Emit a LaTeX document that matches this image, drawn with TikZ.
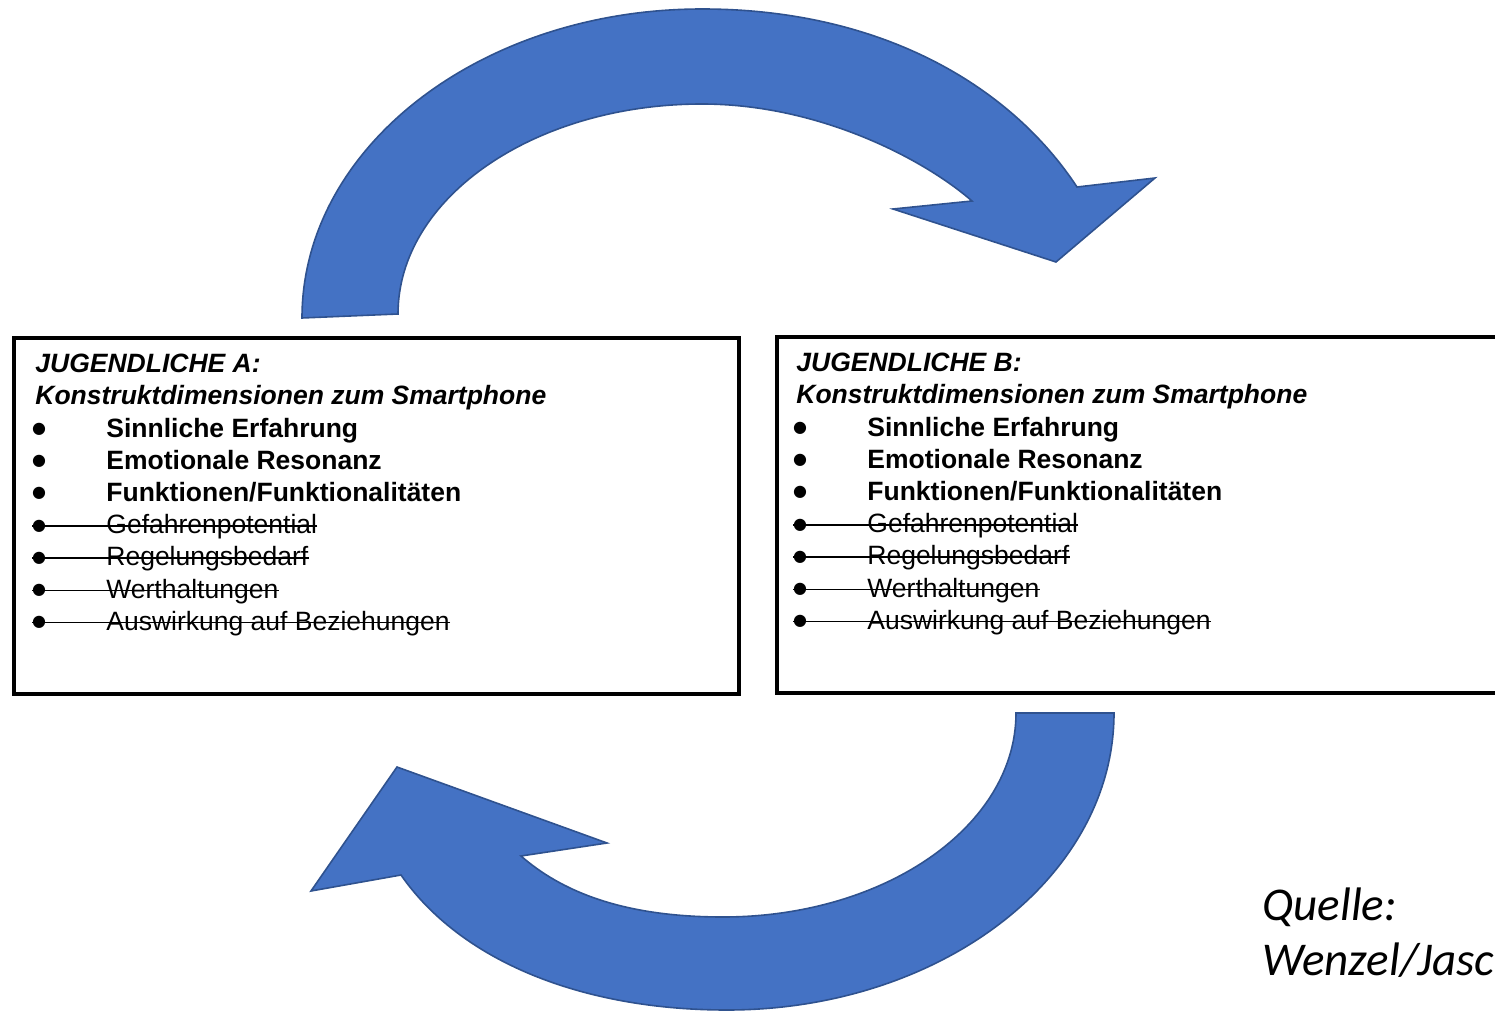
\documentclass[tikz,border=0pt]{standalone}
\usepackage{fontspec}
\setmainfont{Liberation Sans}
\newfontfamily\quellefont{Carlito}
\newfontfamily\dotfont{DejaVu Sans}
\definecolor{arrowblue}{HTML}{4472C4}
\definecolor{arrowedge}{HTML}{2F528F}

\begin{document}
\begin{tikzpicture}[x=0.5pt, y=-0.5pt,
        bluearrow/.style={fill=arrowblue, draw=arrowedge, line width=0.8pt},
        boxframe/.style={draw=black, line width=2pt, minimum width=362.5pt, minimum height=178pt, inner sep=0pt},
        headline/.style={anchor=base west, inner sep=0pt, font=\fontsize{13.25}{16}\selectfont\bfseries\itshape},
        itemline/.style={anchor=base west, inner sep=0pt, font=\fontsize{13.25}{16}\selectfont\bfseries},
        goneline/.style={anchor=base west, inner sep=0pt, font=\fontsize{13.25}{16}\selectfont},
        dotline/.style={anchor=center, inner sep=0pt, font=\fontsize{8}{9}\selectfont\dotfont},
        strike/.style={line width=0.75pt},
        quelle/.style={anchor=base west, inner sep=0pt, font=\fontsize{23.5}{28}\selectfont\quellefont\itshape}]

        \clip (0,0) rectangle (1495,1011);

        %upper arrow
        \filldraw[bluearrow] (302,318) .. controls (302,147) and (481,9) .. (702,9)
            .. controls (880,9) and (1010,85) .. (1077,187)
            -- (1155,178) -- (1056,262) -- (893,209) -- (972,201)
            .. controls (925,160) and (820,104) .. (702,104)
            .. controls (534,104) and (398,198) .. (398,314) -- cycle;

        %lower arrow
        \filldraw[bluearrow] (1114,713) .. controls (1114,877) and (941,1010) .. (727,1010)
            .. controls (580,1010) and (460,960) .. (401,875)
            -- (311,891) -- (397,767) -- (607,843) -- (521,856)
            .. controls (560,890) and (620,917) .. (723,917)
            .. controls (885,917) and (1016,826) .. (1016,713) -- cycle;

        %box A
        \node[boxframe] (boxA) at (376.5,516) {};
        \node[headline] (headA1) at (35,372.6) {JUGENDLICHE A:};
        \node[headline] (headA2) at (35,404.8) {Konstruktdimensionen zum Smartphone};
        \node[dotline] (bA1) at (39,429.3) {●};
        \node[dotline] (bA2) at (39,461.5) {●};
        \node[dotline] (bA3) at (39,493.7) {●};
        \node[dotline] (bA4) at (39,525.9) {●};
        \node[dotline] (bA5) at (39,558.1) {●};
        \node[dotline] (bA6) at (39,590.3) {●};
        \node[dotline] (bA7) at (39,622.5) {●};
        \node[itemline] (sinnA) at (106,437)   {Sinnliche Erfahrung};
        \node[itemline] (emoA)  at (106,469.2) {Emotionale Resonanz};
        \node[itemline] (funkA) at (106,501.4) {Funktionen/Funktionalitäten};
        \node[goneline] (gefA)  at (106,533.6) {Gefahrenpotential};
        \node[goneline] (regA)  at (106,565.8) {Regelungsbedarf};
        \node[goneline] (wertA) at (106,598)   {Werthaltungen};
        \node[goneline] (ausA)  at (106,630.2) {Auswirkung auf Beziehungen};
        \coordinate (sA4) at ([yshift=3.85pt]gefA.base east);
        \coordinate (sA5) at ([yshift=3.85pt]regA.base east);
        \coordinate (sA6) at ([yshift=3.85pt]wertA.base east);
        \coordinate (sA7) at ([yshift=3.85pt]ausA.base east);
        \draw[strike] (sA4) -- (sA4 -| bA4.west);
        \draw[strike] (sA5) -- (sA5 -| bA5.west);
        \draw[strike] (sA6) -- (sA6 -| bA6.west);
        \draw[strike] (sA7) -- (sA7 -| bA7.west);

        %box B
        \node[boxframe, minimum width=371.5pt] (boxB) at (1148.5,515) {};
        \node[headline] (headB1) at (796,371.6) {JUGENDLICHE B:};
        \node[headline] (headB2) at (796,403.8) {Konstruktdimensionen zum Smartphone};
        \node[dotline] (bB1) at (800,428.3) {●};
        \node[dotline] (bB2) at (800,460.5) {●};
        \node[dotline] (bB3) at (800,492.7) {●};
        \node[dotline] (bB4) at (800,524.9) {●};
        \node[dotline] (bB5) at (800,557.1) {●};
        \node[dotline] (bB6) at (800,589.3) {●};
        \node[dotline] (bB7) at (800,621.5) {●};
        \node[itemline] (sinnB) at (867,436)   {Sinnliche Erfahrung};
        \node[itemline] (emoB)  at (867,468.2) {Emotionale Resonanz};
        \node[itemline] (funkB) at (867,500.4) {Funktionen/Funktionalitäten};
        \node[goneline] (gefB)  at (867,532.6) {Gefahrenpotential};
        \node[goneline] (regB)  at (867,564.8) {Regelungsbedarf};
        \node[goneline] (wertB) at (867,597)   {Werthaltungen};
        \node[goneline] (ausB)  at (867,629.2) {Auswirkung auf Beziehungen};
        \coordinate (sB4) at ([yshift=3.85pt]gefB.base east);
        \coordinate (sB5) at ([yshift=3.85pt]regB.base east);
        \coordinate (sB6) at ([yshift=3.85pt]wertB.base east);
        \coordinate (sB7) at ([yshift=3.85pt]ausB.base east);
        \draw[strike] (sB4) -- (sB4 -| bB4.west);
        \draw[strike] (sB5) -- (sB5 -| bB5.west);
        \draw[strike] (sB6) -- (sB6 -| bB6.west);
        \draw[strike] (sB7) -- (sB7 -| bB7.west);

        %source
        \node[quelle] (quelle1) at (1262,920) {Quelle:};
        \node[quelle] (quelle2) at (1262,975) {Wenzel/Jasc};

    \end{tikzpicture}
\end{document}
